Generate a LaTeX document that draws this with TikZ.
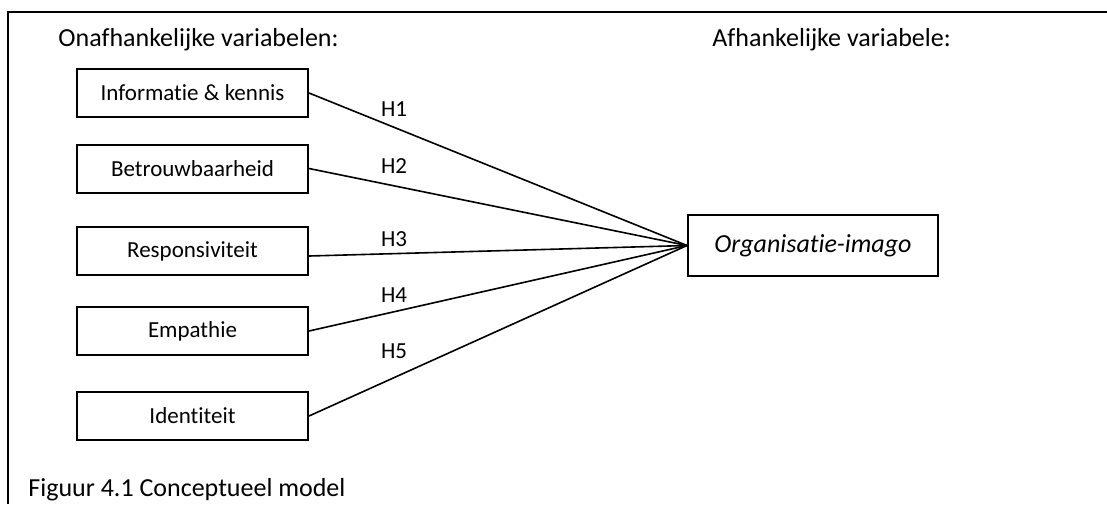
\documentclass[tikz,border=0pt]{standalone}
\usepackage{fontspec}
\setmainfont{Carlito}[Ligatures=NoCommon]
\usepackage{tikz}
\tikzset{>=latex}
\tikzset{
    varbox/.style={draw, line width=1pt, minimum width=115.5pt, minimum height=24pt,
                   inner sep=0pt, font=\fontsize{11.5}{13}\selectfont},
    hlabel/.style={inner sep=0pt, font=\fontsize{11.5}{13}\selectfont},
    headtext/.style={inner sep=0pt, anchor=base west, font=\fontsize{13}{15}\selectfont}
}

\begin{document}
\begin{tikzpicture}[x=0.5pt, y=-0.5pt]
    % Page size and the outer frame (cut off at right and bottom)
    \useasboundingbox (0,0) rectangle (1107,504);
    \draw[line width=1pt] (1107,12) -| (8,504);

    % Headings
    \node[headtext] (indep) at (58,46) {Onafhankelijke variabelen:};
    \node[headtext] (dep) at (712,46) {Afhankelijke variabele:};

    % Independent variables
    \node[varbox] (info) at (192.5,93) {Informatie \& kennis};
    \node[varbox] (trust) at (192.5,168.5) {Betrouwbaarheid};
    \node[varbox] (resp) at (192.5,251) {Responsiviteit};
    \node[varbox] (emp) at (192.5,331) {Empathie};
    \node[varbox] (ident) at (192.5,416) {Identiteit};

    % Dependent variable
    \node[varbox, minimum width=125pt, minimum height=30.5pt,
          font=\fontsize{13}{15}\selectfont\itshape] (imago) at (813,245.5) {Organisatie-imago};

    % Hypotheses
    \draw[line width=0.8pt] (info.east) -- (imago.west);
    \draw[line width=0.8pt] (trust.east) -- (imago.west);
    \draw[line width=0.8pt] ([yshift=-2.5pt]resp.east) -- (imago.west);
    \draw[line width=0.8pt] (emp.east) -- (imago.west);
    \draw[line width=0.8pt] (ident.east) -- (imago.west);

    \node[hlabel] (h1) at (394,109) {H1};
    \node[hlabel] (h2) at (394,166) {H2};
    \node[hlabel] (h3) at (394,239) {H3};
    \node[hlabel] (h4) at (394,295) {H4};
    \node[hlabel] (h5) at (394,351) {H5};

    % Caption
    \node[headtext] (caption) at (28,496) {Figuur 4.1 Conceptueel model};
\end{tikzpicture}
\end{document}
